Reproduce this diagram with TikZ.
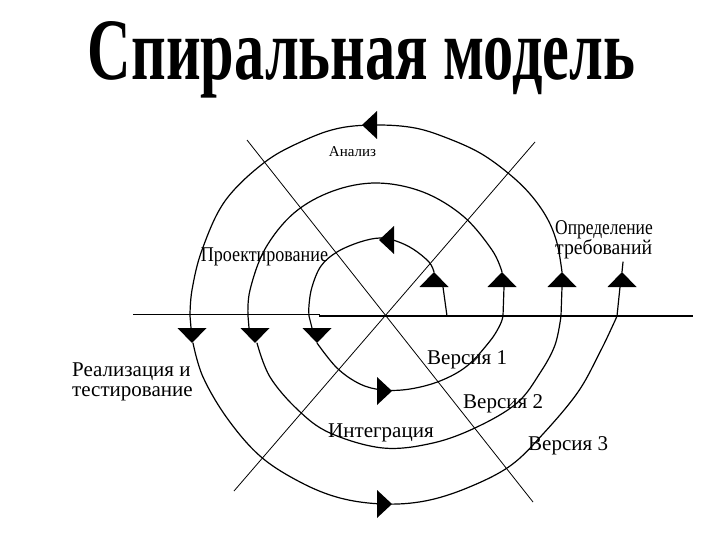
\documentclass[tikz,border=0pt]{standalone}
\usepackage{fontspec}
\usepackage{graphicx}
\setmainfont{Liberation Serif}
\newfontfamily\titlefont{Liberation Serif}
\begin{document}
\begin{tikzpicture}[x=1pt,y=-1pt,
  spiral/.style={line width=1.2pt, line join=round, line cap=round},
  axthin/.style={line width=0.9pt},
  axthick/.style={line width=1.8pt},
  diag/.style={line width=0.8pt},
  lbl/.style={inner sep=0pt, font=\fontsize{21}{20}\selectfont},
  uptri/.pic={\fill (-14.5,0) -- (14.5,0) -- (0,-15) -- cycle;},
  dntri/.pic={\fill (-14.5,0) -- (14.5,0) -- (0,15) -- cycle;},
  lftri/.pic={\fill (0,0) -- (15,-14) -- (15,14) -- cycle;},
  rttri/.pic={\fill (0,0) -- (-15,-14) -- (-15,14) -- cycle;},
]
\useasboundingbox (0,0) rectangle (720,540);

% title
\node[inner sep=0pt, anchor=base] (title) at (361.5,80)
  {\resizebox{547pt}{58pt}{\fontsize{90}{90}\selectfont\titlefont\bfseries Спиральная модель}};

% axes
\coordinate (hl1) at (133,314);
\coordinate (hl2) at (320,314);
\coordinate (hr1) at (319,316);
\coordinate (hr2) at (693,316);
\coordinate (dA1) at (247,140);
\coordinate (dA2) at (533,502);
\coordinate (dB1) at (535,142);
\coordinate (dB2) at (234,491);
\draw[axthin] (hl1) -- (hl2);
\draw[axthick] (hr1) -- (hr2);
\draw[diag] (dA1) -- (dA2);
\draw[diag] (dB1) -- (dB2);

% spiral
\draw[spiral] (447,316) -- (443,287);
\draw[spiral] plot[smooth, tension=0.6] coordinates {(434,272) (429,262) (413,249) (396,241) (380,238) (360,242) (337,252) (321,266) (312,287) (309,305) (309,316)} -- (312,328);
\draw[spiral] plot[smooth, tension=0.6] coordinates {(317,343) (337,368) (360,384) (383,390) (410,389) (440,381) (467,366) (490,341) (500,325) (503,316)} -- (504,287);
\draw[spiral] plot[smooth, tension=0.6] coordinates {(502,272) (492,250) (463,216) (423,192) (377,183) (333,191) (294,213) (265,249) (250,290) (248,316)} -- (249,328);
\draw[spiral] plot[smooth, tension=0.6] coordinates {(257,343) (270,377) (298,410) (330,433) (383,448) (433,443) (477,427) (517,403) (540,373) (555,345) (561,316)} -- (562,287);
\draw[spiral] plot[smooth, tension=0.6] coordinates {(562,272) (557,243) (547,218) (530,194) (508,173) (480,153) (447,138) (415,128) (378,125) (340,128) (305,140) (265,162) (225,201) (202,250) (192,290) (190,316)} -- (191,328);
\draw[spiral] plot[smooth, tension=0.6] coordinates {(193,343) (203,377) (227,418) (260,456) (300,482) (340,498) (383,504) (425,501) (467,488) (510,466) (543,434) (578,392) (600,352) (613,325) (617,316)} -- (620,287);
\draw[spiral] (622,272) -- (623,262);

% arrowheads
\pic at (434,287) {uptri};
\pic at (502,287) {uptri};
\pic at (562,287) {uptri};
\pic at (622,287) {uptri};
\pic at (192,328) {dntri};
\pic at (255,328) {dntri};
\pic at (317,328) {dntri};
\pic at (362,125) {lftri};
\pic at (379,240) {lftri};
\pic at (392,391) {rttri};
\pic at (392,504) {rttri};

% labels
\node[lbl, font=\fontsize{15}{15}\selectfont, anchor=base] (analiz) at (352.5,157) {Анализ};
\node[lbl, anchor=base] (proekt) at (264.5,261) {\scalebox{0.86}[1]{Проектирование}};
\node[lbl, align=left, anchor=north west] (opred) at (555,220) {\scalebox{0.83}[1]{Определение}\\\scalebox{0.94}[1]{требований}};
\node[lbl, align=left, anchor=north west] (real) at (72,363) {Реализация и\\тестирование};
\node[lbl, anchor=base west] (integr) at (328,437) {Интеграция};
\node[lbl, anchor=base west] (v1) at (427,364) {Версия 1};
\node[lbl, anchor=base west] (v2) at (463,408) {Версия 2};
\node[lbl, anchor=base west] (v3) at (528,450) {Версия 3};
\end{tikzpicture}
\end{document}
